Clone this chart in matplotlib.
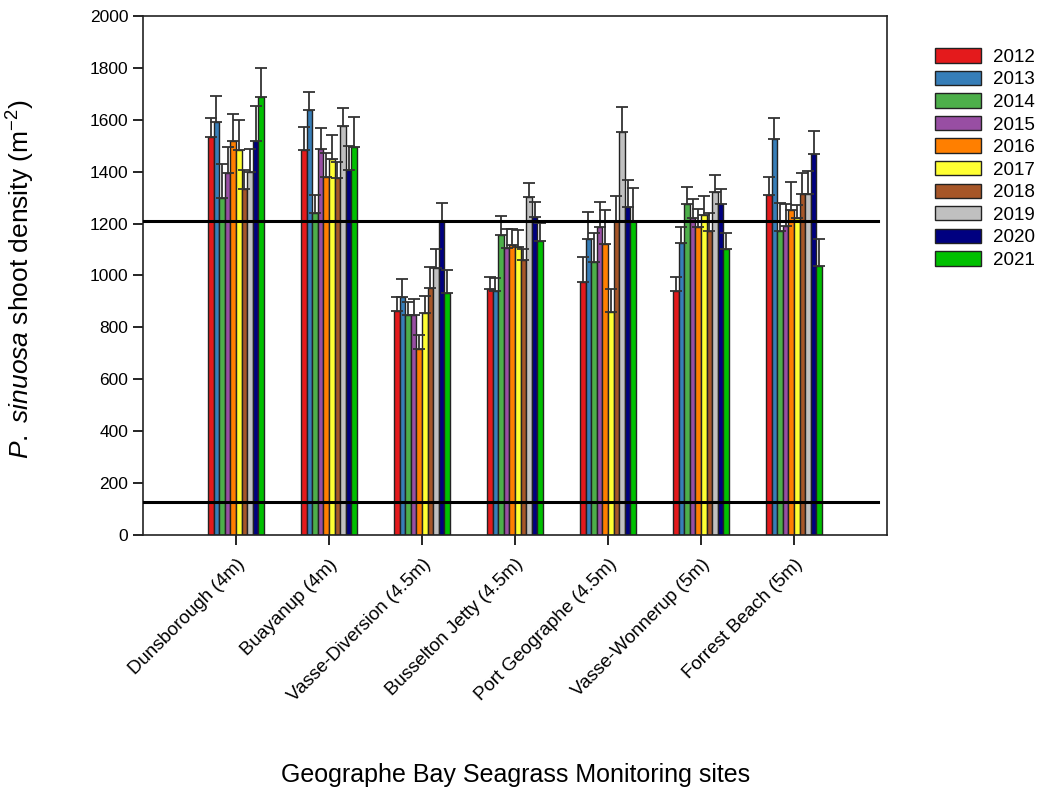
import numpy as np
import matplotlib
matplotlib.use("Agg")
import matplotlib.pyplot as plt
from matplotlib.patches import Patch

plt.rcParams["font.family"] = ["Liberation Sans", "DejaVu Sans"]
plt.rcParams["mathtext.fontset"] = "custom"
plt.rcParams["mathtext.rm"] = "Liberation Sans"
plt.rcParams["mathtext.it"] = "Liberation Sans:italic"

# ==========================================================
# data
# ==========================================================

sites = [
    "Dunsborough (4m)", "Buayanup (4m)", "Vasse-Diversion (4.5m)",
    "Busselton Jetty (4.5m)", "Port Geographe (4.5m)",
    "Vasse-Wonnerup (5m)", "Forrest Beach (5m)",
]
years = ["2012", "2013", "2014", "2015", "2016",
         "2017", "2018", "2019", "2020", "2021"]

# mean shoot density, one list per site (2012 .. 2021)
dunsborough = [1535, 1590, 1300, 1396, 1520, 1482, 1332, 1399, 1520, 1689]
buayanup = [1482, 1638, 1240, 1486, 1381, 1449, 1374, 1578, 1407, 1494]
vasse_diversion = [863, 916, 846, 846, 717, 857, 953, 1027, 1210, 931]
busselton_jetty = [947, 942, 1156, 1107, 1118, 1111, 1060, 1301, 1224, 1134]
port_geographe = [974, 1139, 1053, 1188, 1120, 861, 1210, 1552, 1263, 1210]
vasse_wonnerup = [942, 1124, 1274, 1223, 1188, 1233, 1171, 1320, 1274, 1102]
forrest_beach = [1310, 1525, 1171, 1192, 1252, 1220, 1315, 1315, 1467, 1038]

# standard error (upper bar only)
dunsborough_se = [71, 102, 128, 100, 102, 117, 74, 88, 134, 109]
buayanup_se = [92, 68, 70, 81, 90, 91, 65, 69, 92, 116]
vasse_diversion_se = [53, 69, 53, 63, 52, 64, 78, 75, 68, 90]
busselton_jetty_se = [48, 47, 74, 73, 62, 64, 41, 57, 60, 67]
port_geographe_se = [99, 107, 112, 97, 132, 86, 96, 99, 105, 126]
vasse_wonnerup_se = [53, 61, 66, 72, 68, 73, 69, 67, 58, 61]
forrest_beach_se = [71, 81, 107, 82, 108, 52, 81, 88, 90, 101]

# reference lines
upper_limit = 1211
lower_limit = 126

colors = ["#e41a1c", "#377eb8", "#4daf4a", "#984ea3", "#ff7f00",
          "#ffff33", "#a65628", "#c0c0c0", "#000080", "#00c000"]

means = np.array([dunsborough, buayanup, vasse_diversion, busselton_jetty,
                  port_geographe, vasse_wonnerup, forrest_beach])
errors = np.array([dunsborough_se, buayanup_se, vasse_diversion_se,
                   busselton_jetty_se, port_geographe_se, vasse_wonnerup_se,
                   forrest_beach_se])

# ==========================================================
# plot
# ==========================================================

fig = plt.figure(figsize=(10.39, 7.92), dpi=100)
ax = fig.add_axes([0.1376, 0.3245, 0.7161, 0.6553])

x = np.arange(len(sites))
width = 0.06
n = len(years)

for i, year in enumerate(years):
    pos = x + (i - (n - 1) / 2) * width
    ax.bar(pos, means[:, i], width=width, color=colors[i],
           edgecolor="#222222", linewidth=1.0, zorder=2)
    ax.errorbar(pos, means[:, i],
                yerr=[np.zeros(len(sites)), errors[:, i]],
                fmt="none", ecolor="#333333", elinewidth=1.3,
                capsize=4, capthick=1.3, zorder=3)

ax.plot([-1, 6.9], [upper_limit, upper_limit], color="black", lw=2.2, zorder=4)
ax.plot([-1, 6.9], [lower_limit, lower_limit], color="black", lw=2.2, zorder=4)

ax.set_xlim(-1, 7)
ax.set_ylim(0, 2000)
ax.set_yticks(np.arange(0, 2001, 200))
ax.set_xticks(x)
ax.tick_params(direction="out", length=7, width=1.2,
               top=False, right=False)
ax.tick_params(axis="y", labelsize=12.5)
ax.tick_params(axis="x", pad=8)
ax.set_xticklabels(sites, rotation=45, ha="right", va="top",
                   rotation_mode="anchor", fontsize=13.5)
for s in ax.spines.values():
    s.set_linewidth(1.2)
    s.set_color("#222222")

fig.text(0.02, 0.648, r"$\it{P.\ sinuosa}$ shoot density (m$^{-2}$)",
         rotation=90, ha="center", va="center", fontsize=19)
fig.text(0.496, 0.022, "Geographe Bay Seagrass Monitoring sites",
         ha="center", va="center", fontsize=18)

handles = [Patch(facecolor=c, edgecolor="#222222", label=y)
           for c, y in zip(colors, years)]
fig.legend(handles=handles, loc="upper left", bbox_to_anchor=(0.8923, 0.9486),
           frameon=False, fontsize=13.5, handlelength=2.5, handleheight=0.8,
           labelspacing=0.26, handletextpad=0.6, borderaxespad=0)

fig.savefig("out.png", dpi=100)
